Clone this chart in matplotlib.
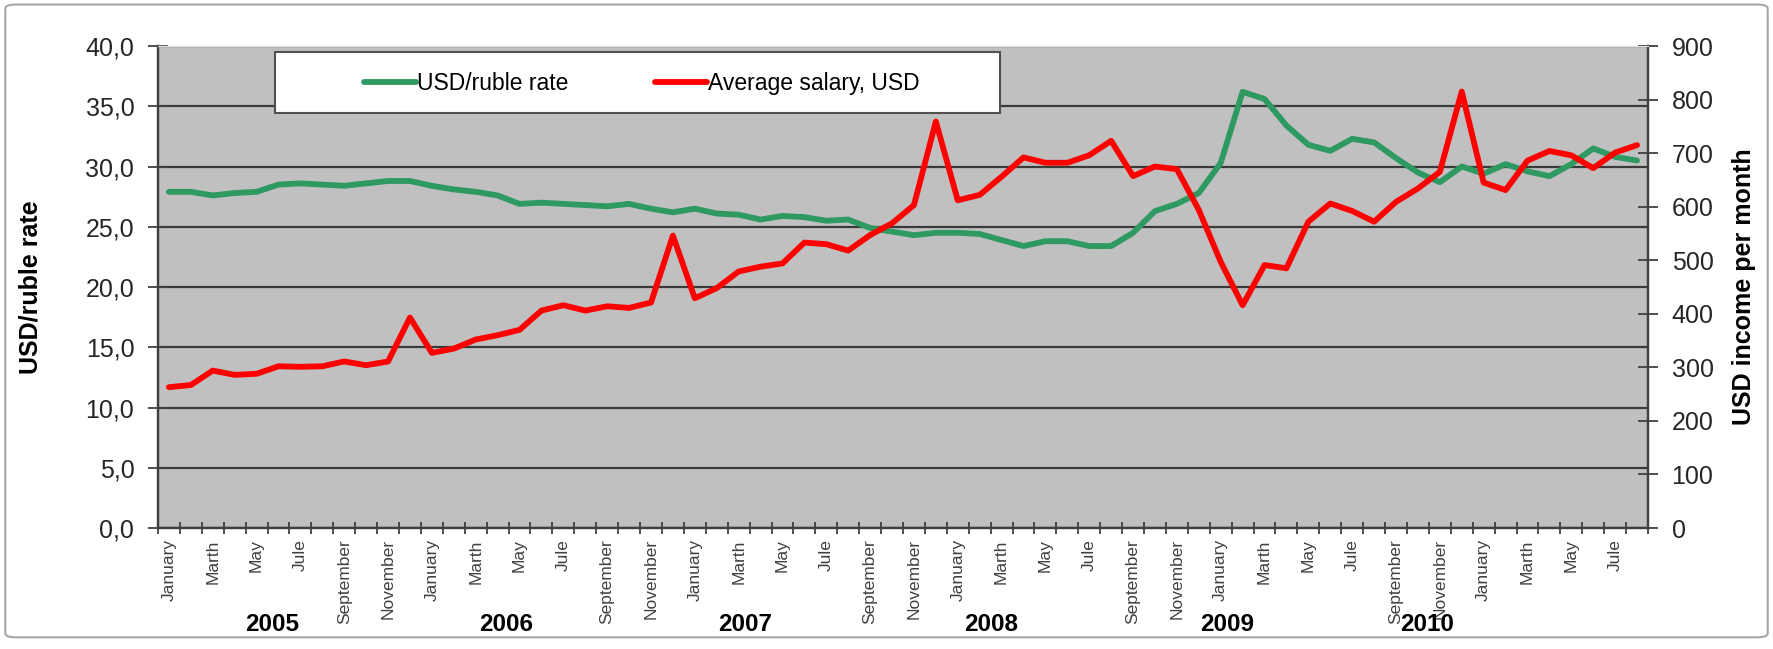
import numpy as np
import matplotlib
matplotlib.use("Agg")
import matplotlib.pyplot as plt
from matplotlib.patches import FancyBboxPatch, Rectangle
from matplotlib.ticker import FixedLocator, MultipleLocator, FuncFormatter

plt.rcParams['font.family'] = ['Liberation Sans', 'DejaVu Sans']

# monthly data, January 2005 .. August 2010
usd_rub = [27.9, 27.9, 27.6, 27.8, 27.9, 28.5, 28.6, 28.5, 28.4, 28.6, 28.8, 28.8,
           28.4, 28.1, 27.9, 27.6, 26.9, 27.0, 26.9, 26.8, 26.7, 26.9, 26.5, 26.2,
           26.5, 26.1, 26.0, 25.6, 25.9, 25.8, 25.5, 25.6, 24.9, 24.6, 24.3, 24.5,
           24.5, 24.4, 23.9, 23.4, 23.8, 23.8, 23.4, 23.4, 24.5, 26.3, 26.9, 27.8,
           30.3, 36.2, 35.6, 33.4, 31.8, 31.3, 32.3, 32.0, 30.7, 29.5, 28.7, 30.0,
           29.4, 30.2, 29.6, 29.2, 30.2, 31.5, 30.8, 30.5]
salary = [263, 267, 294, 286, 288, 302, 301, 302, 311, 304, 311, 393,
          327, 335, 352, 360, 370, 406, 416, 406, 414, 411, 421, 546,
          429, 448, 479, 488, 494, 533, 530, 518, 547, 569, 603, 759,
          612, 622, 656, 692, 682, 682, 696, 723, 657, 675, 670, 594,
          497, 416, 491, 485, 572, 606, 592, 572, 609, 634, 665, 815,
          645, 631, 686, 704, 696, 672, 701, 715]
month_names = ["January", "Marth", "May", "Jule", "September", "November"]
years = ["2005", "2006", "2007", "2008", "2009", "2010"]
year_pos = [4.7, 15.4, 26.3, 37.5, 48.3, 57.4]

n = len(usd_rub)
x = np.arange(n)
green = '#2E9960'
red = '#FF0000'

fig = plt.figure(figsize=(17.73, 6.49), dpi=100)
frame = FancyBboxPatch((0.003, 0.018), 0.994, 0.975, boxstyle="round,pad=0,rounding_size=0.006",
                       transform=fig.transFigure, facecolor='white', edgecolor='#A6A6A6', lw=1.5, zorder=-5)
fig.patches.append(frame)

ax = fig.add_axes([0.0891, 0.1864, 0.8404, 0.7427])
ax.set_facecolor('#C0C0C0')
ax2 = ax.twinx()

l1, = ax.plot(x, usd_rub, color=green, lw=4.2, solid_capstyle='round', label='USD/ruble rate')
l2, = ax2.plot(x, salary, color=red, lw=4.2, solid_capstyle='round', label='Average salary, USD')

ax.set_xlim(-0.5, n - 0.5)
ax.set_ylim(0, 40)
ax2.set_ylim(0, 900)

ax.yaxis.set_major_locator(MultipleLocator(5))
ax.yaxis.set_major_formatter(FuncFormatter(lambda v, p: f"{v:.1f}".replace('.', ',')))
ax2.yaxis.set_major_locator(MultipleLocator(100))
ax.grid(axis='y', color='#3A3A3A', lw=1.6)
ax.set_axisbelow(True)

# month labels every two months, tick marks between categories
lab_pos = x[::2]
ax.xaxis.set_major_locator(FixedLocator(lab_pos))
ax.set_xticklabels([month_names[(i % 12) // 2] for i in lab_pos], rotation=90,
                   fontsize=12.5, color='#404040')
ax.xaxis.set_minor_locator(FixedLocator(np.arange(-0.5, n, 1)))
ax.tick_params(axis='x', which='major', length=0, pad=8)
ax.tick_params(axis='x', which='minor', length=9, width=1.3, direction='inout', color='#404040')
ax.tick_params(axis='y', length=14, width=1.3, direction='inout', color='#404040',
               labelsize=18, labelcolor='#262626', pad=10)
ax2.tick_params(axis='y', length=14, width=1.3, direction='inout', color='#404040',
                labelsize=18, labelcolor='#262626', pad=10)

for a in (ax, ax2):
    a.spines['top'].set_color('#E0E0E0')
    for s in ('left', 'right', 'bottom'):
        a.spines[s].set_color('#404040')
        a.spines[s].set_linewidth(1.6)

ax.set_ylabel('USD/ruble rate', fontsize=18, fontweight='bold')
ax.yaxis.set_label_coords(-0.0772, 0.5)
ax2.set_ylabel('USD income per month', fontsize=18, fontweight='bold')
ax2.yaxis.set_label_coords(1.0564, 0.5)

for yr, pos in zip(years, year_pos):
    ax.text(pos, -0.2, yr, transform=ax.get_xaxis_transform(), ha='center', va='center',
            fontsize=17.5, fontweight='bold', color='black')

# legend box
box = Rectangle((0.0785, 0.861), 0.4866, 0.1266, transform=ax2.transAxes,
                facecolor='white', edgecolor='#505050', lw=1.5, zorder=4)
ax2.add_patch(box)
leg = ax2.legend(handles=[l1, l2], loc='center left', ncol=2,
                 bbox_to_anchor=(0.1383, 0.9222), fontsize=16.5, frameon=False,
                 handlelength=2.27, handletextpad=0.05, columnspacing=3.75,
                 borderaxespad=0, borderpad=0)
leg.set_zorder(5)

fig.savefig('out.png', dpi=100)
